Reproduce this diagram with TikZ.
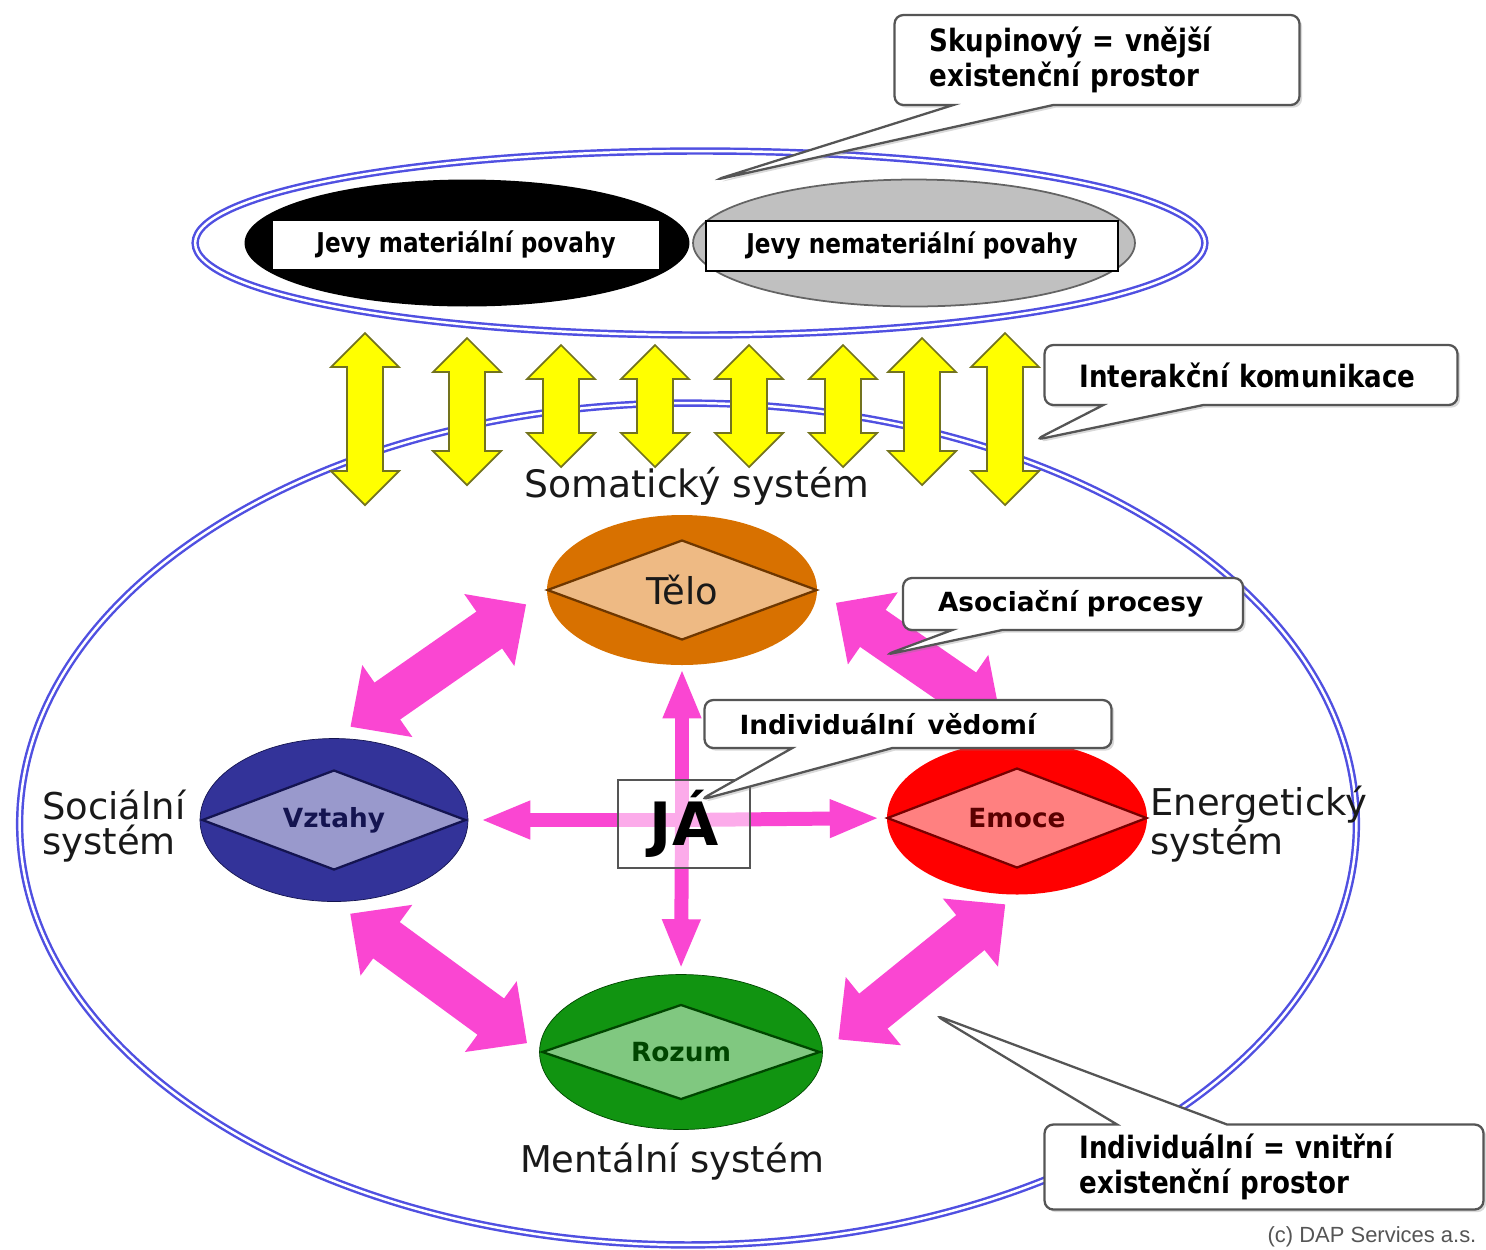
\documentclass[tikz,border=0pt]{standalone}
\usepackage{fontspec}
\setmainfont{DejaVu Sans}
\newfontfamily\narrowfont{DejaVu Sans}[FakeStretch=0.85]
\newfontfamily\noticefont{Liberation Sans}
\usetikzlibrary{shapes.geometric,shapes.callouts,arrows.meta,shadows,positioning}
\definecolor{ringBlue}{RGB}{80,80,225}
\definecolor{yellowFill}{RGB}{255,255,0}
\definecolor{yellowEdge}{RGB}{115,115,30}
\definecolor{pinkArrow}{RGB}{250,70,210}
\definecolor{grayFill}{RGB}{192,192,192}
\definecolor{grayEdge}{RGB}{100,100,100}
\definecolor{teloOuter}{RGB}{216,113,0}
\definecolor{teloInner}{RGB}{238,186,132}
\definecolor{teloEdge}{RGB}{110,55,0}
\definecolor{vztahyOuter}{RGB}{51,51,153}
\definecolor{vztahyInner}{RGB}{153,153,204}
\definecolor{vztahyEdge}{RGB}{20,20,80}
\definecolor{emoceOuter}{RGB}{255,0,0}
\definecolor{emoceInner}{RGB}{255,128,128}
\definecolor{emoceEdge}{RGB}{120,0,0}
\definecolor{emoceText}{RGB}{90,0,0}
\definecolor{rozumOuter}{RGB}{17,148,17}
\definecolor{rozumInner}{RGB}{128,200,128}
\definecolor{rozumEdge}{RGB}{0,70,0}
\definecolor{calloutEdge}{RGB}{85,85,85}
\definecolor{labelInk}{RGB}{25,25,25}
\tikzset{
  ring/.style={draw=ringBlue, line width=1.4pt, double=white, double distance=1.4pt},
  yarrow/.style={fill=yellowFill, draw=yellowEdge, line width=1pt},
  sysell/.style={ellipse, inner sep=0pt},
  sysdia/.style={diamond, aspect=2.7, inner sep=0pt, line width=1.3pt},
  pinkwide/.style={draw=pinkArrow, line width=0.9cm, >={Triangle[width=1.7cm,length=0.9cm]}, <->},
  pinkthin/.style={draw=pinkArrow, line width=0.28cm, >={Triangle[width=0.7cm,length=1.0cm]}, ->},
  callbox/.style={rectangle callout, draw=calloutEdge, fill=white, line width=1.3pt, rounded corners=5pt,
    drop shadow={opacity=0.3, shadow xshift=1.5pt, shadow yshift=-1.5pt}, inner xsep=0.7cm, inner ysep=0pt, align=left},
  bigcall/.style={callbox, font=\narrowfont\bfseries\fontsize{17.5}{19.5}\selectfont},
  smallcall/.style={callbox, font=\bfseries\fontsize{15}{18}\selectfont},
  syslabel/.style={text=labelInk, font=\fontsize{21}{20}\selectfont, align=left, inner sep=0pt},
  jevybox/.style={draw, line width=1.5pt, fill=white, minimum height=1cm, font=\narrowfont\bfseries\fontsize{15.5}{18}\selectfont}
}
\begin{document}
\begin{tikzpicture}[x=0.02cm, y=-0.02cm]
\useasboundingbox (0,0) rectangle (1486,1249);
% vnitrni prostor
\draw[ring] (688,824) ellipse [x radius=13.37cm, y radius=8.42cm];
% vnejsi prostor
\draw[ring] (700,243) ellipse [x radius=10.1cm, y radius=1.84cm];
\node[sysell, fill=black, minimum width=8.9cm, minimum height=2.54cm] (hmotne) at (467,243) {};
\node[sysell, fill=grayFill, draw=grayEdge, line width=1pt, minimum width=8.84cm, minimum height=2.54cm] (nehmotne) at (914,243) {};
\node[jevybox, minimum width=7.76cm] (jevyA) at (466,245) {Jevy materiální povahy};
\node[jevybox, minimum width=8.24cm] (jevyB) at (912,246) {Jevy nemateriální povahy};
% interakce
\foreach \x/\t/\b in {365/333/505, 467/338/485, 561/345/467, 655/345/467, 749/345/467, 843/345/467, 922/338/485, 1005/333/505}
  \draw[yarrow] (\x,\t) -- ++(34,34) -- ++(-16,0) -- (\x+18,\b-34) -- ++(16,0) -- (\x,\b)
    -- ++(-34,-34) -- ++(16,0) -- (\x-18,\t+34) -- ++(-16,0) -- cycle;
\node[syslabel, font=\fontsize{21.5}{22}\selectfont] (somaticky) at (697,486) {Somatický systém};
% systemy
\node[sysell, fill=teloOuter, minimum width=5.4cm, minimum height=3cm] (telo) at (682,590) {};
\node[sysdia, draw=teloEdge, fill=teloInner, minimum width=5.4cm, minimum height=2cm, text=labelInk, font=\fontsize{21}{24}\selectfont] (teloD) at (telo) {Tělo};
\node[sysell, fill=vztahyOuter, draw=vztahyEdge, minimum width=5.36cm, minimum height=3.26cm] (vztahy) at (334,820) {};
\node[sysdia, draw=vztahyEdge, fill=vztahyInner, minimum width=5.28cm, minimum height=2cm, text=vztahyEdge, font=\bfseries\fontsize{15}{18}\selectfont] (vztahyD) at (vztahy) {Vztahy};
\node[sysell, fill=emoceOuter, minimum width=5.2cm, minimum height=3.06cm] (emoce) at (1017,818) {};
\node[sysdia, draw=emoceEdge, fill=emoceInner, minimum width=5.2cm, minimum height=2cm, text=emoceText, font=\bfseries\fontsize{15}{18}\selectfont] (emoceD) at (emoce) {Emoce};
\node[sysell, fill=rozumOuter, draw=rozumEdge, minimum width=5.66cm, minimum height=3.1cm] (rozum) at (681,1052) {};
\node[sysdia, draw=rozumEdge, fill=rozumInner, minimum width=5.56cm, minimum height=1.9cm, text=rozumEdge, font=\bfseries\fontsize{15}{18}\selectfont] (rozumD) at (rozum) {Rozum};
% asociace
\draw[pinkwide, shorten <=0.5cm, shorten >=0.4cm] (telo.west) -- (vztahy.north);
\draw[pinkwide, shorten <=0.45cm, shorten >=0.9cm] (telo.east) -- (emoce.75);
\draw[pinkwide, shorten <=0.4cm, shorten >=0.3cm] (vztahy.south) -- (rozum.west);
\draw[pinkwide, shorten <=0.3cm, shorten >=0.4cm] (emoce.south) -- (rozum.east);
% ja
\coordinate (jaMid) at (682,820);
\draw[pinkthin, shorten >=0.06cm] (jaMid) -- (telo.south);
\draw[pinkthin, shorten >=0.1cm] (jaMid) -- (rozum.north);
\draw[pinkthin, shorten >=0.24cm] (jaMid) -- (vztahy.east);
\draw[pinkthin, shorten >=0.14cm] (jaMid) -- (emoce.west);
\node[draw=calloutEdge, line width=1.3pt, fill=white, fill opacity=0.55, text opacity=1, minimum width=2.64cm, minimum height=1.76cm, font=\bfseries\fontsize{34}{34}\selectfont] (ja) at (684,824) {JÁ};
% popisky
\node[syslabel, anchor=west] (socialni) at (42,826) {Sociální\\systém};
\node[syslabel, anchor=west] (energeticky) at (1150,824) {Energetický\\systém};
\node[syslabel] (mentalni) at (672,1162) {Mentální systém};
% bubliny
\coordinate (skTip) at (715,180);
\node[bigcall, text width=6.7cm, minimum height=1.8cm, callout absolute pointer={(skTip)}, callout pointer width=2cm] (skupinovy) at (1097,60) {Skupinový = vnější\\existenční prostor};
\coordinate (ikTip) at (1035,440);
\node[bigcall, text width=6.86cm, minimum height=1.2cm, callout absolute pointer={(ikTip)}, callout pointer width=2cm] (interakcni) at (1251,375) {Interakční komunikace};
\coordinate (apTip) at (885,655);
\node[smallcall, text width=5.4cm, minimum height=1.04cm, callout absolute pointer={(apTip)}, callout pointer width=1cm] (asociacni) at (1073,604) {Asociační procesy};
\coordinate (ivTip) at (700,800);
\node[smallcall, text width=6.74cm, minimum height=0.96cm, callout absolute pointer={(ivTip)}, callout pointer width=2cm] (vedomi) at (908,724) {Individuální\enspace vědomí};
\coordinate (vnTip) at (935,1015);
\node[bigcall, text width=7.38cm, minimum height=1.7cm, callout absolute pointer={(vnTip)}, callout pointer width=2.2cm] (vnitrni) at (1264,1167) {Individuální = vnitřní\\existenční prostor};
\node[text=calloutEdge, font=\noticefont\fontsize{12.5}{14}\selectfont] (autor) at (1372,1237) {(c) DAP Services a.s.};
\end{tikzpicture}
\end{document}
